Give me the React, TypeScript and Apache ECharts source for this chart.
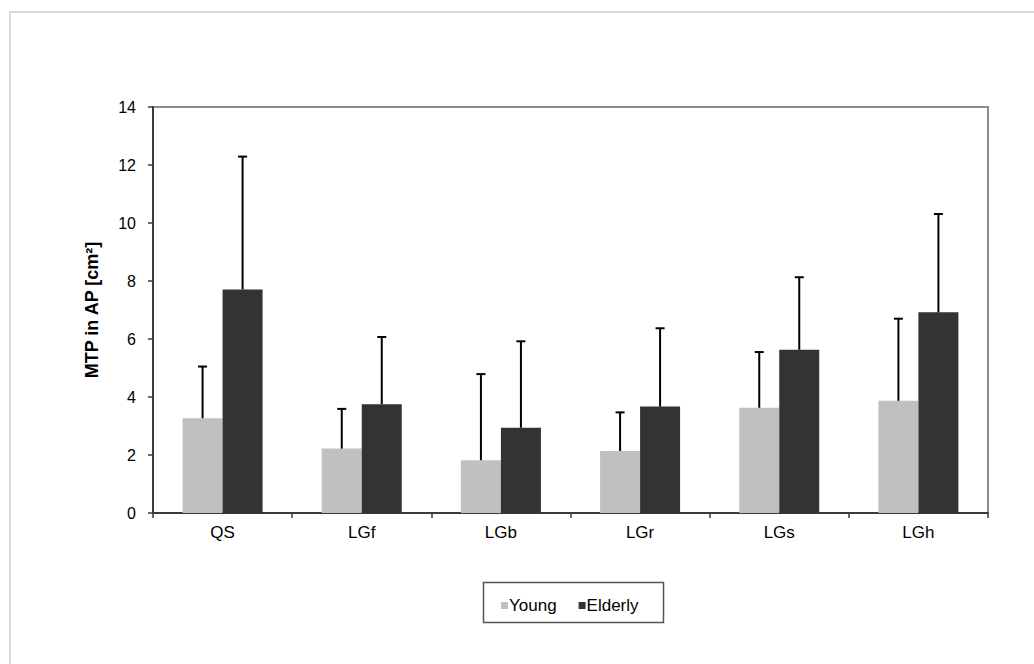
import React, { useEffect, useRef } from "react";
import * as echarts from "echarts";

// Muscle groups on the x axis
const categories = ["QS", "LGf", "LGb", "LGr", "LGs", "LGh"];
// Mean MTP in AP [cm²]
const youngMean = [3.27, 2.22, 1.82, 2.14, 3.63, 3.87];
const elderlyMean = [7.71, 3.75, 2.94, 3.67, 5.63, 6.92];
// Standard deviations (drawn upward only)
const youngSD = [1.78, 1.37, 2.97, 1.33, 1.92, 2.83];
const elderlySD = [4.58, 2.32, 2.98, 2.70, 2.50, 3.39];
const yTicks = { min: 0, max: 14, interval: 2 };

const BAR_W = 40;
const FONT = "'Liberation Sans', Arial, sans-serif";

function errorSeries(name: string, means: number[], sds: number[], offset: number) {
  return {
    type: "custom",
    name: name + " SD",
    z: 5,
    silent: true,
    data: means.map((m, i) => [i, m, sds[i]]),
    encode: { x: 0, y: 1 },
    renderItem: (_params: any, api: any) => {
      const i = api.value(0);
      const m = api.value(1);
      const sd = api.value(2);
      const base = api.coord([i, m]);
      const top = api.coord([i, m + sd]);
      const x = base[0] + offset;
      const style = { stroke: "#000", lineWidth: 2 };
      return {
        type: "group",
        children: [
          { type: "line", shape: { x1: x, y1: base[1], x2: x, y2: top[1] }, style },
          { type: "line", shape: { x1: x - 4.5, y1: top[1], x2: x + 4.5, y2: top[1] }, style },
        ],
      };
    },
  };
}

export default function App() {
  const ref = useRef<HTMLDivElement>(null);

  useEffect(() => {
    if (!ref.current) return;
    const chart = echarts.init(ref.current, undefined, { renderer: "svg" });
    chart.setOption({
      animation: false,
      backgroundColor: "#fff",
      textStyle: { fontFamily: FONT },
      grid: {
        left: 153,
        right: 46,
        top: 107,
        bottom: 151,
        show: true,
        borderColor: "#8c8c8c",
        borderWidth: 2,
      },
      legend: {
        left: 496,
        top: 592,
        itemWidth: 7,
        itemHeight: 7,
        itemGap: 22,
        icon: "rect",
        data: ["Young", "Elderly"],
        textStyle: { fontFamily: FONT, fontSize: 17, color: "#000", padding: [0, 0, 0, -4] },
      },
      xAxis: {
        type: "category",
        data: categories,
        axisLine: { lineStyle: { color: "#3a3a3a", width: 2 } },
        axisTick: { show: true, length: 5, lineStyle: { color: "#3a3a3a", width: 1.5 } },
        axisLabel: { color: "#000", fontSize: 17, fontFamily: FONT, margin: 11 },
      },
      yAxis: {
        type: "value",
        min: yTicks.min,
        max: yTicks.max,
        interval: yTicks.interval,
        name: "MTP in AP [cm²]",
        nameLocation: "middle",
        nameGap: 52,
        nameTextStyle: { fontFamily: FONT, fontSize: 18, fontWeight: "bold", color: "#000" },
        splitLine: { show: false },
        axisLine: { show: true, lineStyle: { color: "#3a3a3a", width: 2 } },
        axisTick: { show: true, length: 5, lineStyle: { color: "#3a3a3a", width: 1.5 } },
        axisLabel: { color: "#000", fontSize: 16, fontFamily: FONT, margin: 17 },
      },
      series: [
        {
          type: "bar",
          name: "Young",
          data: youngMean,
          barWidth: BAR_W,
          barGap: "0%",
          itemStyle: { color: "#c0c0c0" },
        },
        {
          type: "bar",
          name: "Elderly",
          data: elderlyMean,
          barWidth: BAR_W,
          itemStyle: { color: "#333333" },
        },
        errorSeries("Young", youngMean, youngSD, -BAR_W / 2),
        errorSeries("Elderly", elderlyMean, elderlySD, BAR_W / 2),
      ],
      graphic: [
        {
          type: "rect",
          silent: true,
          shape: { x: 10, y: 12, width: 1100, height: 700 },
          style: { fill: "none", stroke: "#d9d9d9", lineWidth: 2 },
        },
        {
          type: "rect",
          silent: true,
          shape: { x: 483.5, y: 582.5, width: 180, height: 40 },
          style: { fill: "none", stroke: "#555", lineWidth: 1.5 },
        },
      ],
    });
    return () => chart.dispose();
  }, []);

  return (
    <div
      ref={ref}
      style={{ position: "fixed", left: 0, top: 0, width: 1034, height: 664 }}
    />
  );
}
